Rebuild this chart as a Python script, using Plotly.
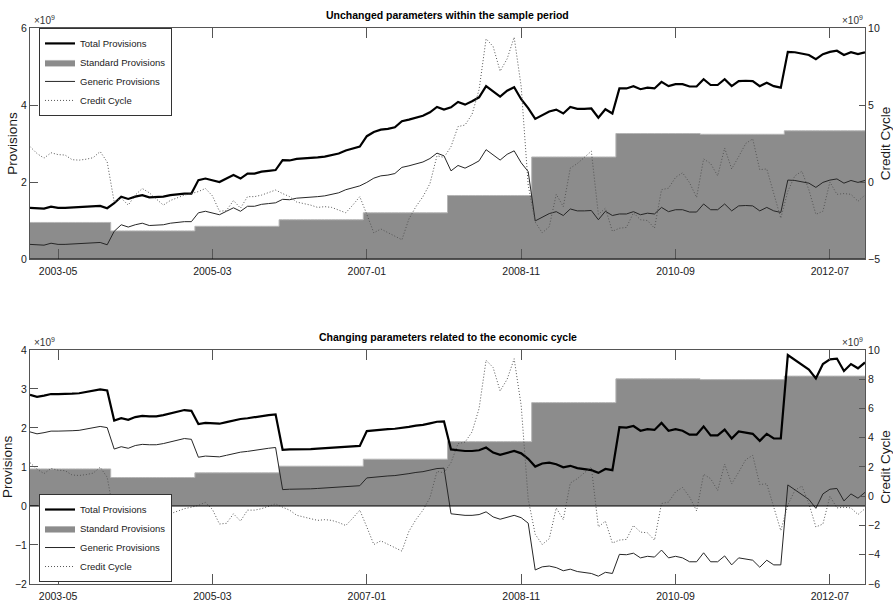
import plotly.graph_objects as go

# ---------------------------------------------------------------- data (x1e9)
years = list(range(2003, 2013))
months = [f"{y}-{m:02d}" for y in years for m in range(1, 13)]
tick_labels = ["2003-05", "2005-03", "2007-01", "2008-11", "2010-09", "2012-07"]

# standard provisions are set once a year
standard_by_year = [0.95, 0.73, 0.85, 1.02, 1.20, 1.65, 2.65, 3.26, 3.24, 3.33]

# generic provisions, parameters fixed over the whole sample
generic_unchanged = [
    0.38, 0.37, 0.36, 0.41, 0.38, 0.38, 0.39, 0.40, 0.41, 0.42, 0.43, 0.37,
    0.72, 0.89, 0.83, 0.89, 0.93, 0.87, 0.88, 0.89, 0.93, 0.95, 0.97, 0.97,
    1.20, 1.24, 1.20, 1.15, 1.24, 1.33, 1.24, 1.37, 1.37, 1.42, 1.44, 1.46,
    1.55, 1.54, 1.58, 1.59, 1.60, 1.62, 1.64, 1.68, 1.72, 1.80, 1.85, 1.90,
    1.99, 2.10, 2.16, 2.18, 2.22, 2.38, 2.42, 2.47, 2.52, 2.61, 2.75, 2.68,
    2.29, 2.43, 2.36, 2.45, 2.55, 2.84, 2.70, 2.57, 2.72, 2.81, 2.50, 2.27,
    0.99, 1.08, 1.18, 1.23, 1.13, 1.30, 1.25, 1.25, 1.26, 1.02, 1.24, 1.13,
    1.17, 1.17, 1.23, 1.15, 1.19, 1.17, 1.34, 1.23, 1.28, 1.28, 1.22, 1.22,
    1.43, 1.28, 1.28, 1.43, 1.25, 1.38, 1.39, 1.38, 1.25, 1.34, 1.25, 1.21,
    2.05, 2.04, 2.01, 1.97, 1.86, 1.99, 2.05, 2.08, 1.97, 2.04, 1.99, 2.04,
]

# generic provisions, parameters moving with the economic cycle
generic_cyclical = [
    1.90, 1.85, 1.88, 1.92, 1.92, 1.92, 1.93, 1.94, 1.97, 2.00, 2.04, 2.01,
    1.46, 1.52, 1.48, 1.55, 1.58, 1.57, 1.57, 1.60, 1.65, 1.68, 1.73, 1.71,
    1.25, 1.28, 1.27, 1.26, 1.30, 1.34, 1.38, 1.40, 1.43, 1.46, 1.48, 1.50,
    0.42, 0.43, 0.43, 0.44, 0.44, 0.45, 0.46, 0.47, 0.48, 0.49, 0.50, 0.52,
    0.72, 0.74, 0.75, 0.77, 0.78, 0.80, 0.83, 0.86, 0.88, 0.92, 0.96, 0.97,
    -0.20, -0.22, -0.24, -0.24, -0.22, -0.15, -0.28, -0.34, -0.28, -0.24, -0.30, -0.44,
    -1.64, -1.56, -1.54, -1.58, -1.66, -1.62, -1.68, -1.71, -1.73, -1.80, -1.70, -1.73,
    -1.24, -1.25, -1.21, -1.33, -1.29, -1.31, -1.13, -1.33, -1.29, -1.33, -1.43, -1.43,
    -1.20, -1.43, -1.43, -1.28, -1.51, -1.33, -1.36, -1.39, -1.57, -1.39, -1.51, -1.51,
    0.54, 0.41, 0.30, 0.17, -0.06, 0.31, 0.43, 0.45, 0.13, 0.31, 0.20, 0.35,
]

credit_cycle = [
    2.30, 1.85, 1.55, 1.90, 1.78, 1.75, 1.45, 1.42, 1.48, 1.58, 1.98, 1.30,
    -1.30, -1.05, -1.50, -0.85, -0.42, -0.70, -1.10, -1.50, -1.20, -1.00, -0.85, -0.75,
    -0.62, -0.42, -0.90, -1.90, -1.85, -1.20, -1.70, -0.95, -0.95, -0.85, -0.70, -0.52,
    -0.75, -0.95, -1.30, -1.40, -1.50, -1.65, -1.60, -1.65, -1.80, -2.00, -1.50, -0.95,
    -2.10, -3.30, -3.05, -3.30, -3.55, -3.75, -2.40, -1.60, -0.95, -0.10, 1.70, 1.60,
    2.30, 3.60, 3.70, 4.40, 6.00, 9.30, 8.80, 7.20, 8.00, 9.40, 6.20, -0.20,
    -2.60, -3.30, -2.90, -0.80, -1.60, 0.90, 1.20, 1.60, 2.00, -2.10, -1.70, -3.20,
    -3.00, -2.95, -2.00, -2.45, -2.50, -3.00, -0.50, -0.40, 0.30, 0.60, -0.05, -1.00,
    1.50, 1.20, 0.40, 2.20, 0.85, 1.65, 2.50, 2.80, 0.80, 0.85, -0.80, -2.35,
    -0.60, 0.40, 0.70, -0.50, -2.10, -1.90, 0.00, -0.80, -0.75, -0.80, -1.25, -0.85,
]

standard = [v for v in standard_by_year for _ in months[:12]]
total_unchanged = [s + g for s, g in zip(standard, generic_unchanged)]
total_cyclical = [s + g for s, g in zip(standard, generic_cyclical)]

# ---------------------------------------------------------------- styling
FONT = "Liberation Sans, Arial, Helvetica, sans-serif"
AXIS = "#555555"
INK = "#1a1a1a"
FILL = "#8c8c8c"

panels = [
    dict(title="Unchanged parameters within the sample period",
         generic=generic_unchanged, total=total_unchanged,
         x="x", yl="y", yr="y2", legend="legend"),
    dict(title="Changing parameters related to the economic cycle",
         generic=generic_cyclical, total=total_cyclical,
         x="x2", yl="y3", yr="y4", legend="legend2"),
]

fig = go.Figure()
for p in panels:
    fig.add_trace(go.Scatter(
        x=months, y=standard, xaxis=p["x"], yaxis=p["yl"], mode="lines",
        line=dict(shape="hvh", color="#b5b5b5", width=1),
        fill="tozeroy", fillcolor=FILL,
        name="Standard Provisions", legend=p["legend"], legendrank=2))
    fig.add_trace(go.Scatter(
        x=months, y=p["generic"], xaxis=p["x"], yaxis=p["yl"], mode="lines",
        line=dict(color="#262626", width=1),
        name="Generic Provisions", legend=p["legend"], legendrank=3))
    fig.add_trace(go.Scatter(
        x=months, y=p["total"], xaxis=p["x"], yaxis=p["yl"], mode="lines",
        line=dict(color="black", width=2.2),
        name="Total Provisions", legend=p["legend"], legendrank=1))
    fig.add_trace(go.Scatter(
        x=months, y=credit_cycle, xaxis=p["x"], yaxis=p["yr"], mode="lines",
        line=dict(color="#555555", width=1, dash="1px,2px"),
        name="Credit Cycle", legend=p["legend"], legendrank=4))

tick_font = dict(family=FONT, size=10.5, color=INK)
title_font = dict(family=FONT, size=13.5, color=INK)


def x_axis(anchor):
    return dict(type="category", range=[0, len(months) - 1], anchor=anchor,
                domain=[0, 1],
                tickmode="array", tickvals=tick_labels, ticktext=tick_labels,
                ticks="inside", ticklen=10, tickcolor=AXIS, showline=True,
                linecolor=AXIS, mirror="ticks", showgrid=False, zeroline=False,
                tickfont=tick_font, ticklabelstandoff=2)


def y_axis(domain, rng, vals, title, side="left", overlay=None, anchor="x"):
    d = dict(range=rng, tickmode="array", tickvals=vals, ticks="inside",
             ticklen=8 if side == "left" else 6, tickcolor=AXIS, showline=True,
             linecolor=AXIS, showgrid=False, zeroline=False, tickfont=tick_font,
             side=side, anchor=anchor,
             title=dict(text=title, font=title_font,
                        standoff=0 if side == "left" else 6))
    if overlay:
        d["overlaying"] = overlay
    else:
        d["domain"] = domain
    return d


top_dom = [0.5845, 1.0]
bot_dom = [0.0, 0.4209]

legend_style = dict(xanchor="left", yanchor="middle", bgcolor="white",
                    bordercolor="#333333", borderwidth=1,
                    font=dict(family=FONT, size=9.5, color=INK))

fig.update_layout(
    width=893, height=601, template="none",
    paper_bgcolor="white", plot_bgcolor="white",
    margin=dict(l=30, r=28, t=28, b=17),
    font=dict(family=FONT, size=11, color=INK),
    xaxis=x_axis("y"),
    xaxis2=x_axis("y3"),
    yaxis=y_axis(top_dom, [0, 6], [0, 2, 4, 6], "Provisions"),
    yaxis2=y_axis(None, [-5, 10], [-5, 0, 5, 10], "Credit Cycle",
                  side="right", overlay="y", anchor="x"),
    yaxis3=y_axis(bot_dom, [-2, 4], [-2, -1, 0, 1, 2, 3, 4], "Provisions", anchor="x2"),
    yaxis4=y_axis(None, [-6, 10], [-6, -4, -2, 0, 2, 4, 6, 8, 10], "Credit Cycle",
                  side="right", overlay="y3", anchor="x2"),
    legend=dict(x=0.0108, y=0.921, **legend_style),
    legend2=dict(x=0.0108, y=0.0827, **legend_style),
    showlegend=True,
)

# bar baseline at zero on the provisions axis
for xr, yr in (("x domain", "y"), ("x2 domain", "y3")):
    fig.add_shape(type="line", xref=xr, x0=0, x1=1, yref=yr, y0=0, y1=0,
                  line=dict(color="black", width=1), layer="above")

# panel titles and axis exponents
for p, dom in zip(panels, (top_dom, bot_dom)):
    fig.add_annotation(text=f"<b>{p['title']}</b>", xref="paper", yref="paper",
                       x=0.5, y=dom[1], yanchor="middle", yshift=13,
                       showarrow=False,
                       font=dict(family=FONT, size=10.5, color="black"))
    for xpos, anch in ((0, "left"), (1, "right")):
        fig.add_annotation(text="\u00d710<sup>9</sup>", xref="paper", yref="paper",
                           x=xpos, y=dom[1], xanchor=anch, yanchor="bottom",
                           xshift=2 if anch == "left" else 0,
                           showarrow=False,
                           font=dict(family=FONT, size=10, color="#333333"))

fig.write_html("out.html")
